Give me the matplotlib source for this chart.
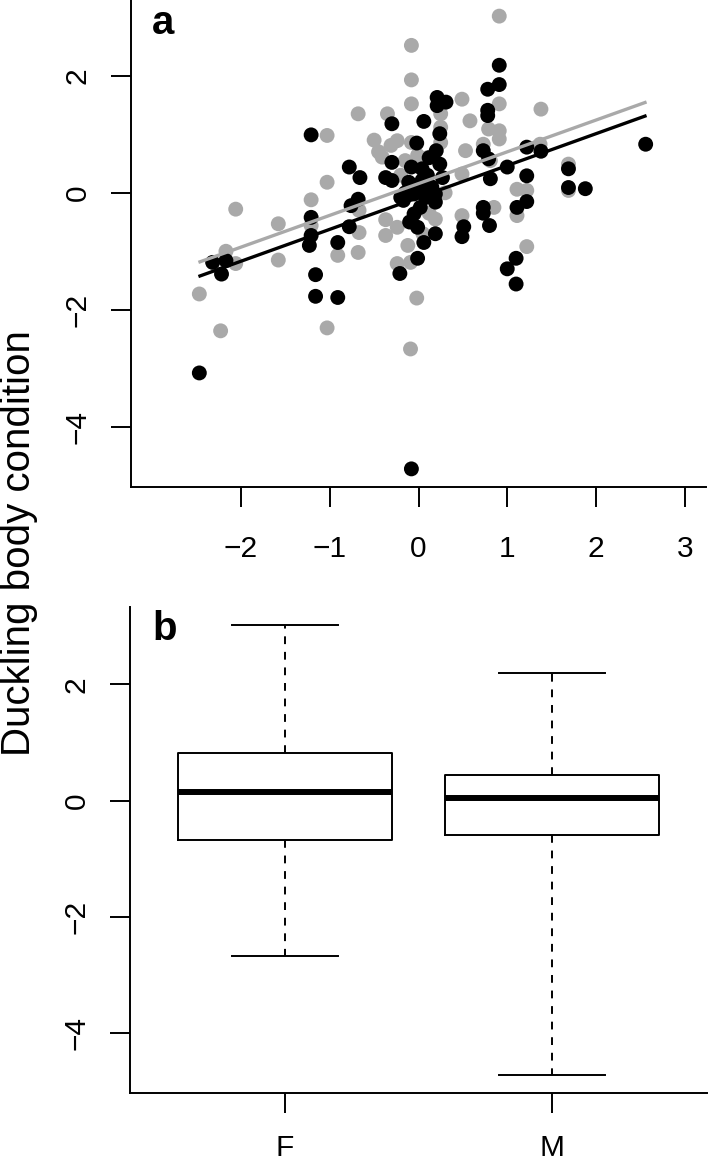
import matplotlib
matplotlib.use("Agg")
import matplotlib.pyplot as plt

plt.rcParams['font.family'] = ['Liberation Sans', 'DejaVu Sans']

# ---------------------------------------------------------
# Panel a: body condition vs predictor, females (grey) / males (black)
# ---------------------------------------------------------
female_x = [-0.08, -0.08, -0.08, -0.68, -0.35, -1.03, -1.03, -2.06, -1.21, -1.58,
            -0.24, -0.08, -0.31, -0.41, -0.67, -0.37, -0.24, -0.37, -0.67, 0.91,
            0.49, 0.91, 1.38, 0.58, 0.25, 0.25, 0.25, 0.79, 0.91, 0.91,
            0.53, 0.73, -0.01, 1.37, 0.49, 0.81, 1.11, 1.22, 1.69, 1.69,
            0.19, 0.49, 0.85, 1.11, 1.22, -2.17, -2.06, -1.58, -2.47, -2.23,
            -1.03, -1.21, -0.91, -0.68, -0.24, -0.09, -0.02, -0.09,
            -0.15, 0.10, -0.20, 0.30, 0.05, -0.50, -0.45, -0.12, 0.12]
female_y = [2.52, 1.93, 1.52, 1.35, 1.35, 0.98, 0.18, -0.28, -0.12, -0.53,
            0.89, 0.86, 0.81, 0.61, -0.30, -0.46, -0.59, -0.73, -0.68, 3.02,
            1.60, 1.52, 1.43, 1.23, 1.35, 1.12, 0.86, 1.09, 1.06, 0.92,
            0.72, 0.83, 0.64, 0.83, 0.32, 0.55, 0.06, 0.04, 0.49, 0.04,
            -0.45, -0.39, -0.25, -0.39, -0.92, -1.00, -1.21, -1.15, -1.73, -2.36,
            -2.31, -0.56, -1.07, -1.02, -1.21, -1.19, -1.80, -2.67,
            0.55, 0.60, 0.30, 0.00, -0.70, 0.90, 0.70, -0.90, -0.35]

male_x = [-1.21, -0.30, 0.06, -0.78, -0.66, -0.37, -0.30, -0.30, -0.08, -0.11,
          -0.68, -0.76, -1.21, -0.78, -1.21, -0.91, -0.17, 0.91, 0.91, 0.78,
          0.21, 0.31, 0.21, 0.78, 0.78, 0.24, 0.20, 0.24, 0.27, 0.73,
          0.79, 1.22, 1.38, 1.00, 0.81, 1.22, 1.69, 1.69, 1.88, 2.56,
          0.04, 0.04, -0.05, 0.08, 0.19, 0.19, -0.05, -0.01, 0.06, 0.19,
          0.73, 0.73, 0.51, 0.49, 0.80, 1.11, 1.22, -0.20, -0.01, 1.00,
          1.10, 1.10, -0.08, -0.21, -2.32, -2.22, -2.17, -2.47, -1.23, -1.16,
          -1.16, -0.91,
          0.00, 0.10, -0.10, 0.15, 0.02, -0.15, 0.12, -0.02]
male_y = [0.99, 1.18, 1.22, 0.44, 0.26, 0.26, 0.52, 0.21, 0.44, 0.18,
          -0.11, -0.22, -0.42, -0.58, -0.73, -0.85, -0.13, 2.18, 1.85, 1.77,
          1.63, 1.55, 1.49, 1.41, 1.32, 1.01, 0.72, 0.49, 0.26, 0.72,
          0.58, 0.78, 0.71, 0.44, 0.24, 0.29, 0.41, 0.09, 0.07, 0.83,
          0.41, 0.21, -0.02, -0.08, -0.02, -0.16, -0.36, -0.59, -0.85, -0.70,
          -0.25, -0.35, -0.58, -0.75, -0.56, -0.25, -0.15, -0.08, -1.12, -1.30,
          -1.12, -1.56, -4.72, -1.38, -1.19, -1.39, -1.16, -3.08, -0.90, -1.40,
          -1.77, -1.79,
          0.05, 0.30, -0.50, 0.10, -0.25, 0.00, 0.60, 0.85]

# fitted lines: (intercept, slope), drawn over the range of the predictor
fit_x_range = [-2.48, 2.57]
female_fit = [0.157, 0.543]
male_fit = [-0.080, 0.545]

# ---------------------------------------------------------
# Panel b: body condition by sex (box summaries)
# ---------------------------------------------------------
sex_labels = ['F', 'M']
sex_min = [-2.67, -4.72]
sex_q1 = [-0.68, -0.59]
sex_med = [0.15, 0.05]
sex_q3 = [0.82, 0.44]
sex_max = [3.02, 2.19]

GREY = '#a9a9a9'
LW = 1.4
YLIM = (-5.03, 3.33)


def style_axes(ax):
    for side in ['top', 'right']:
        ax.spines[side].set_visible(False)
    for side in ['left', 'bottom']:
        ax.spines[side].set_linewidth(LW)
    ax.tick_params(length=14.4, width=LW, labelsize=21.5, color='black')
    ax.tick_params(axis='y', pad=14)
    ax.tick_params(axis='x', pad=20)
    ax.set_ylim(*YLIM)
    ax.set_yticks([-4, -2, 0, 2])
    ax.set_yticklabels(['\u22124', '\u22122', '0', '2'])
    for lab in ax.get_yticklabels():
        lab.set_rotation(90)
        lab.set_va('center')


W, H = 708, 1164
fig = plt.figure(figsize=(W / 100, H / 100), dpi=100)
ax_a = fig.add_axes([131 / W, (H - 487) / H, 575 / W, 489 / H])
ax_b = fig.add_axes([130 / W, (H - 1093) / H, 577 / W, 486 / H])

# --- panel a ---
ax_a.scatter(female_x, female_y, s=115, c=GREY, edgecolors='none', zorder=2)
ax_a.scatter(male_x, male_y, s=115, c='black', edgecolors='none', zorder=3)
for fit, col in [(female_fit, GREY), (male_fit, 'black')]:
    ys = [fit[0] + fit[1] * x for x in fit_x_range]
    ax_a.plot(fit_x_range, ys, color=col, lw=2.4, solid_capstyle='butt', zorder=4)
ax_a.set_xlim(-3.24, 3.24)
ax_a.set_xticks([-2, -1, 0, 1, 2, 3])
ax_a.set_xticklabels(['\u22122', '\u22121', '0', '1', '2', '3'])
style_axes(ax_a)
ax_a.text(0.036, 0.926, 'a', transform=ax_a.transAxes, fontsize=29,
          fontweight='bold', ha='left', va='baseline')

# --- panel b ---
stats = []
for lab, lo, q1, med, q3, hi in zip(sex_labels, sex_min, sex_q1, sex_med, sex_q3, sex_max):
    stats.append(dict(label=lab, whislo=lo, q1=q1, med=med, q3=q3, whishi=hi, fliers=[]))
ax_b.bxp(stats, positions=[1, 2], widths=0.8, capwidths=0.4, showfliers=False,
         boxprops=dict(color='black', linewidth=LW),
         whiskerprops=dict(color='black', linewidth=LW, linestyle=(0, (4, 4))),
         capprops=dict(color='black', linewidth=LW),
         medianprops=dict(color='black', linewidth=4.3, solid_capstyle='butt'))
ax_b.set_xlim(0.42, 2.58)
style_axes(ax_b)
ax_b.tick_params(axis='x', pad=15)
ax_b.text(0.038, 0.932, 'b', transform=ax_b.transAxes, fontsize=29,
          fontweight='bold', ha='left', va='baseline')

fig.text(30.5 / W, 1 - 543 / H, 'Duckling body condition', rotation=90,
         rotation_mode='anchor', ha='center', va='baseline', fontsize=29)

fig.savefig('out.png', dpi=100)
